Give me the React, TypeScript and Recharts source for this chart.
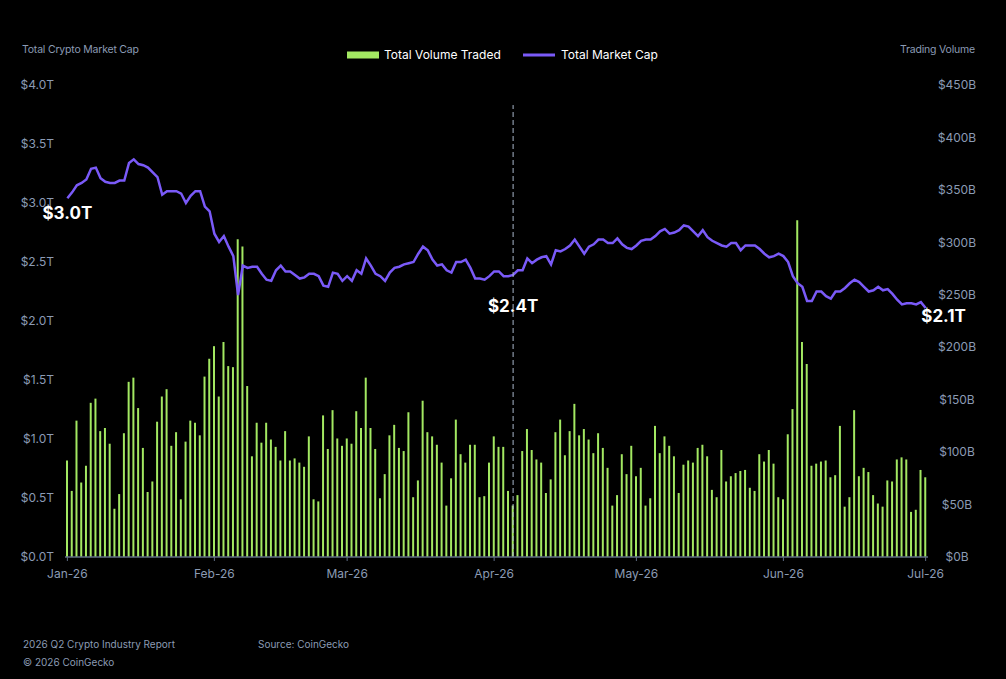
import React from "react";
import { ComposedChart, Bar, Line, XAxis, YAxis, ReferenceLine, LabelList } from "recharts";

// ---- Data ----
const volumeB: number[] = [
  92, 63, 130, 71, 87, 147, 151, 120, 123, 108,
  46, 60, 118, 167, 171, 142, 104, 62, 72, 129,
  153, 160, 106, 119, 55, 110, 130, 128, 116, 172,
  189, 201, 153, 205, 182, 181, 303, 296, 163, 96,
  128, 109, 128, 112, 105, 92, 120, 92, 94, 90,
  86, 115, 55, 53, 135, 103, 140, 113, 106, 113,
  108, 139, 123, 171, 123, 103, 56, 79, 116, 126,
  104, 101, 138, 57, 73, 149, 119, 115, 107, 90,
  49, 75, 131, 98, 90, 107, 107, 57, 58, 90,
  115, 105, 105, 63, 49, 59, 101, 122, 102, 93,
  90, 61, 74, 119, 131, 97, 120, 146, 116, 122,
  112, 99, 118, 104, 85, 49, 59, 98, 79, 106,
  77, 85, 49, 56, 125, 99, 115, 106, 96, 61,
  88, 92, 90, 104, 107, 96, 64, 57, 102, 72,
  77, 80, 82, 83, 66, 63, 98, 91, 102, 89,
  57, 55, 117, 141, 321, 205, 184, 87, 89, 91,
  92, 76, 78, 125, 48, 57, 140, 77, 85, 81,
  59, 51, 48, 73, 72, 93, 95, 93, 43, 45,
  83, 76,
];

const marketCapT: number[] = [
  3.04, 3.09, 3.15, 3.17, 3.20, 3.29, 3.30, 3.21, 3.18, 3.17,
  3.17, 3.19, 3.19, 3.34, 3.37, 3.33, 3.32, 3.30, 3.26, 3.22,
  3.07, 3.10, 3.10, 3.10, 3.08, 3.00, 3.06, 3.10, 3.10, 2.97,
  2.93, 2.74, 2.67, 2.72, 2.63, 2.55, 2.22, 2.47, 2.45, 2.46,
  2.46, 2.40, 2.35, 2.34, 2.43, 2.47, 2.42, 2.42, 2.39, 2.36,
  2.37, 2.40, 2.40, 2.38, 2.30, 2.29, 2.41, 2.40, 2.34, 2.38,
  2.34, 2.43, 2.40, 2.53, 2.47, 2.40, 2.38, 2.34, 2.41, 2.45,
  2.46, 2.48, 2.49, 2.50, 2.57, 2.63, 2.60, 2.52, 2.47, 2.48,
  2.43, 2.41, 2.50, 2.50, 2.52, 2.45, 2.36, 2.36, 2.35, 2.38,
  2.42, 2.42, 2.38, 2.38, 2.39, 2.43, 2.43, 2.53, 2.49, 2.52,
  2.54, 2.55, 2.48, 2.60, 2.59, 2.61, 2.64, 2.69, 2.63, 2.57,
  2.63, 2.65, 2.69, 2.69, 2.66, 2.66, 2.70, 2.65, 2.62, 2.61,
  2.64, 2.68, 2.69, 2.69, 2.72, 2.76, 2.78, 2.74, 2.75, 2.77,
  2.81, 2.80, 2.76, 2.72, 2.77, 2.71, 2.68, 2.66, 2.64, 2.63,
  2.66, 2.66, 2.60, 2.64, 2.64, 2.64, 2.61, 2.57, 2.54, 2.55,
  2.57, 2.55, 2.50, 2.38, 2.32, 2.29, 2.17, 2.17, 2.25, 2.25,
  2.21, 2.19, 2.25, 2.25, 2.28, 2.32, 2.35, 2.33, 2.29, 2.25,
  2.26, 2.29, 2.26, 2.27, 2.23, 2.18, 2.14, 2.15, 2.15, 2.14,
  2.16, 2.11,
];

// daily categories, starting 1 Jan 2026
const dates: string[] = (() => {
  const out: string[] = [];
  const d = new Date(Date.UTC(2026, 0, 1));
  for (let i = 0; i < volumeB.length; i++) {
    out.push(d.toISOString().slice(0, 10));
    d.setUTCDate(d.getUTCDate() + 1);
  }
  return out;
})();

const monthTicks = ["2026-01-01", "2026-02-01", "2026-03-01", "2026-04-01", "2026-05-01", "2026-06-01", "2026-07-01"];
const monthLabels = ["Jan-26", "Feb-26", "Mar-26", "Apr-26", "May-26", "Jun-26", "Jul-26"];

const capTicks = [0, 0.5, 1, 1.5, 2, 2.5, 3, 3.5, 4];
const volTicks = [0, 50, 100, 150, 200, 250, 300, 350, 400, 450];

const annotationDates = ["2026-01-01", "2026-04-05", "2026-07-01"];
const annotationLabels = ["$3.0T", "$2.4T", "$2.1T"];
const markerDate = "2026-04-05";

const data = dates.map((date, i) => ({ date, volume: volumeB[i], cap: marketCapT[i] }));

// ---- Styles ----
const GREEN = "#a3e862";
const PURPLE = "#7a5af8";
const LABEL = "#8b9bb4";
const AXIS = "#5f6d84";
const FONT = "Inter, 'Noto Sans', sans-serif";

const labelPlacement = [
  { dx: 0, dy: 15, anchor: "middle" },
  { dx: 0, dy: 31, anchor: "middle" },
  { dx: 18, dy: 8, anchor: "middle" },
];

const AnnotationLabel = (props: any) => {
  const { x, y, index } = props;
  const k = annotationDates.indexOf(dates[index]);
  if (k < 0 || x == null || y == null) return null;
  const p = labelPlacement[k];
  return (
    <text
      x={x + p.dx}
      y={y + p.dy}
      dy="0.36em"
      textAnchor={p.anchor as any}
      fill="#ffffff"
      fontWeight={700}
      fontSize={17}
      fontFamily={FONT}
    >
      {annotationLabels[k]}
    </text>
  );
};

const RightTick = (props: any) => {
  const { x, y, payload } = props;
  return (
    <text x={x + 29} y={y} dy="0.355em" textAnchor="middle" fill={LABEL} fontSize={12} fontFamily={FONT}>
      {`$${payload.value}B`}
    </text>
  );
};

export default function App() {
  return (
    <div style={{ position: "absolute", left: 0, top: 0, width: 1006, height: 679, background: "#000", overflow: "hidden" }}>
      <ComposedChart
        width={1006}
        height={679}
        data={data}
        margin={{ top: 85, right: 18, bottom: 92, left: 15 }}
      >
        <XAxis
          dataKey="date"
          type="category"
          ticks={monthTicks}
          interval={0}
          tickFormatter={(v: string) => monthLabels[monthTicks.indexOf(v)] ?? ""}
          axisLine={{ stroke: AXIS, strokeWidth: 1.5 }}
          tickLine={{ stroke: AXIS }}
          tickSize={4}
          tickMargin={8}
          height={30}
          tick={{ fill: LABEL, fontSize: 12, fontFamily: FONT }}
        />
        <YAxis
          yAxisId="cap"
          orientation="left"
          domain={[0, 4]}
          ticks={capTicks}
          allowDataOverflow
          axisLine={false}
          tickLine={false}
          tickSize={0}
          tickMargin={11}
          width={50}
          tickFormatter={(v: number) => `$${v.toFixed(1)}T`}
          tick={{ fill: LABEL, fontSize: 12, fontFamily: FONT }}
        />
        <YAxis
          yAxisId="vol"
          orientation="right"
          domain={[0, 450]}
          ticks={volTicks}
          allowDataOverflow
          axisLine={false}
          tickLine={false}
          tickSize={0}
          tickMargin={0}
          width={60}
          tick={<RightTick />}
        />
        <Bar yAxisId="vol" dataKey="volume" fill={GREEN} barSize={2} isAnimationActive={false} />
        <Line
          yAxisId="cap"
          dataKey="cap"
          type="linear"
          stroke={PURPLE}
          strokeWidth={2.5}
          dot={false}
          activeDot={false}
          isAnimationActive={false}
        >
          <LabelList dataKey="cap" content={<AnnotationLabel />} />
        </Line>
        <ReferenceLine
          yAxisId="cap"
          segment={[{ x: markerDate, y: 0 }, { x: markerDate, y: 3.83 }]}
          stroke="#a9b8cc"
          strokeWidth={1}
          strokeDasharray="5 3"
        />
      </ComposedChart>
      <svg
        width={1006}
        height={679}
        style={{ position: "absolute", left: 0, top: 0, pointerEvents: "none" }}
        fontFamily={FONT}
      >
        <text x={22} y={53} fontSize={10.5} letterSpacing={-0.2} fill={LABEL}>Total Crypto Market Cap</text>
        <text x={975} y={53} fontSize={10.5} letterSpacing={-0.2} fill={LABEL} textAnchor="end">Trading Volume</text>
        <rect x={347} y={51.5} width={32} height={7} fill={GREEN} />
        <text x={384} y={59.3} fontSize={12} fill="#ffffff">Total Volume Traded</text>
        <line x1={523} x2={555} y1={55} y2={55} stroke={PURPLE} strokeWidth={3} />
        <text x={561} y={59.3} fontSize={12} fill="#ffffff">Total Market Cap</text>
        <text x={23} y={647.6} fontSize={10} fill={LABEL}>2026 Q2 Crypto Industry Report</text>
        <text x={258} y={647.6} fontSize={10} fill={LABEL}>Source: CoinGecko</text>
        <text x={23} y={665.6} fontSize={10} fill={LABEL}>© 2026 CoinGecko</text>
      </svg>
    </div>
  );
}
